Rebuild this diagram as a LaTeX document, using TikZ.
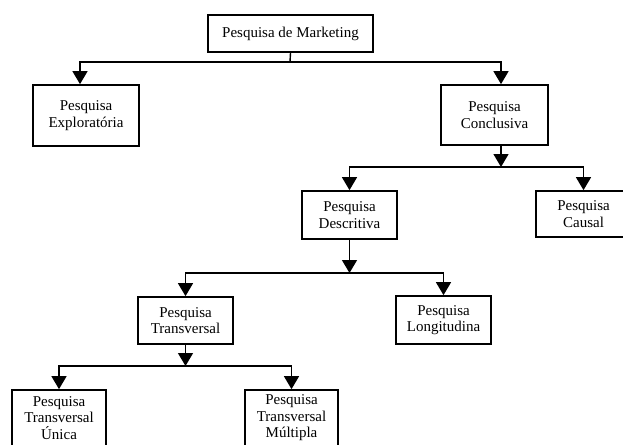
\documentclass[tikz,border=0pt]{standalone}
\usepackage{fontspec}
\setmainfont{Liberation Serif}
\usetikzlibrary{arrows.meta, positioning}

\begin{document}
\begin{tikzpicture}[x=1pt, y=-1pt, line width=1.4pt,
			>={Triangle[width=15pt,length=13pt]},
			caixa/.style={draw, line width=1.7pt, align=center, inner sep=0pt,
				font=\fontsize{15}{16.5}\selectfont}]
			
			\useasboundingbox (0,0) rectangle (623,444);
			
			% Caixas, em ordem de nivel
			\node[caixa, minimum width=165pt, minimum height=37pt] (mkt) at (290.5,33.5) {Pesquisa de Marketing};
			\node[caixa, minimum width=106pt, minimum height=61pt] (expl) at (86,115.5) {Pesquisa\\Exploratória};
			\node[caixa, minimum width=107pt, minimum height=60pt] (concl) at (494.5,115) {Pesquisa\\Conclusiva};
			\node[caixa, minimum width=95pt, minimum height=48pt] (descr) at (349.5,215) {Pesquisa\\Descritiva};
			\node[caixa, minimum width=95pt, minimum height=46pt] (causal) at (583.5,214) {Pesquisa\\Causal};
			\node[caixa, minimum width=95pt, minimum height=47pt] (transv) at (185.5,320.5) {Pesquisa\\Transversal};
			\node[caixa, minimum width=95pt, minimum height=48pt] (longit) at (443.5,320) {Pesquisa\\Longitudina};
			\node[caixa, minimum width=94pt, minimum height=56pt] (unica) at (59,418) {Pesquisa\\Transversal\\Única};
			\node[caixa, minimum width=93pt, minimum height=56pt] (multi) at (291.5,418) {Pesquisa\\Transversal\\Múltipla};
			
			% Pontos de ramificacao
			\coordinate (r1) at (290,62);
			\coordinate (r2) at (501,167);
			\coordinate (r3) at (349.5,273);
			\coordinate (r4) at (185.5,366);
			
			% --- Ligacoes ---
			% De Marketing
			\draw (mkt.south) -- (r1);
			\draw[->] (r1) -| ([xshift=-6pt]expl.north);
			\draw[->] (r1) -| ([xshift=6.5pt]concl.north);
			
			% De Conclusiva
			\draw[->] ([xshift=6.5pt]concl.south) -- (r2);
			\draw[->] (r2) -| (descr.north);
			\draw[->] (r2) -| (causal.north);
			
			% De Descritiva
			\draw[->] (descr.south) -- (r3);
			\draw[->] (r3) -| (transv.north);
			\draw[->] (r3) -| (longit.north);
			
			% De Transversal
			\draw[->] (transv.south) -- (r4);
			\draw[->] (r4) -| (unica.north);
			\draw[->] (r4) -| (multi.north);
			
		\end{tikzpicture}
\end{document}
